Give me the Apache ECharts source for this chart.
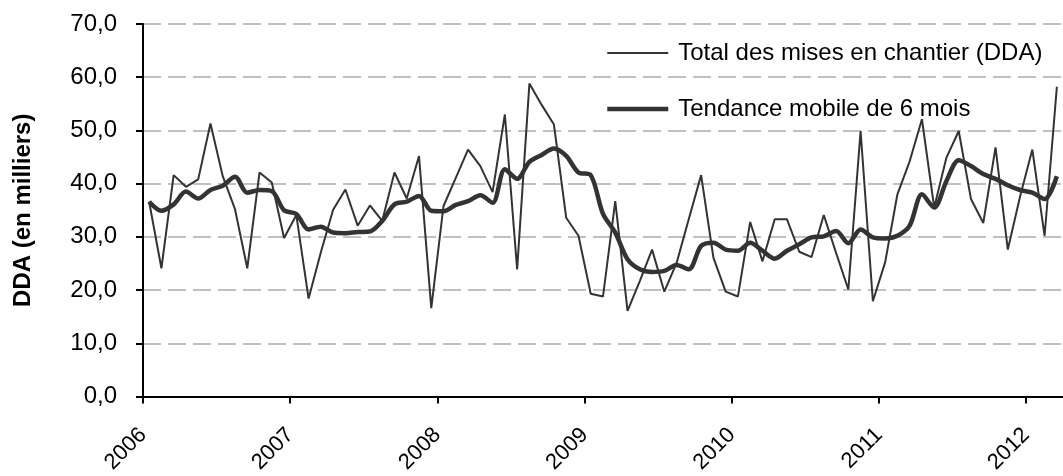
<!DOCTYPE html>
<html>
<head>
<meta charset="utf-8">
<script src="https://cdn.jsdelivr.net/npm/echarts@6/dist/echarts.min.js"></script>
<style>
  html, body { margin: 0; padding: 0; background: #fff; }
  #chart { width: 1063px; height: 476px; }
</style>
</head>
<body>
<div id="chart"></div>
<script>
// mises en chantier mensuelles, janvier 2006 -> mars 2012
const startYear = 2006
const yearTicks = [2006, 2007, 2008, 2009, 2010, 2011, 2012]

const totalDDA = [
  36.6, 24.1, 41.6, 39.4, 40.8, 51.3, 41.4, 35.2, 24.1, 42.1, 40.2, 29.8,
  34.1, 18.4, 27.1, 35.1, 38.9, 32.1, 35.9, 33.0, 42.1, 37.2, 45.2, 16.6,
  35.8, 41.1, 46.4, 43.3, 38.4, 53.0, 23.9, 58.8, 54.8, 51.1, 33.6, 30.2,
  19.3, 18.8, 36.7, 16.1, 21.7, 27.6, 19.7, 25.1, 33.4, 41.6, 26.1, 19.7,
  18.8, 32.8, 25.4, 33.3, 33.3, 27.2, 26.2, 34.1, 27.0, 20.1, 49.9, 17.9,
  25.2, 38.0, 44.2, 52.1, 35.5, 44.9, 49.9, 37.1, 32.6, 46.8, 27.6, 37.6,
  46.4, 30.2, 58.2
]

const tendance6m = [
  36.6, 34.9, 36.1, 38.5, 37.2, 38.8, 39.6, 41.3, 38.3, 38.8, 38.6, 35.0,
  34.3, 31.4, 31.9, 30.8, 30.7, 30.9, 31.0, 33.0, 36.1, 36.6, 37.7, 34.9,
  34.8, 36.0, 36.7, 37.8, 36.4, 42.7, 40.9, 44.1, 45.4, 46.6, 45.2, 42.1,
  41.6, 34.3, 30.8, 25.8, 23.9, 23.4, 23.6, 24.7, 23.9, 28.3, 28.9, 27.6,
  27.4, 28.9, 27.4, 25.9, 27.4, 28.6, 29.9, 30.1, 31.1, 28.8, 31.4, 29.9,
  29.7, 30.2, 32.1, 38.0, 35.5, 40.5, 44.4, 43.3, 41.8, 40.9, 39.7, 38.8,
  38.3, 37.1, 41.4
]

const seriesNames = ['Total des mises en chantier (DDA)', 'Tendance mobile de 6 mois']

// chaque mois est placé au milieu de son intervalle
function toPoints(values) {
  return values.map((v, i) => [startYear + (i + 0.5) / 12, v])
}

const lineColor = '#333333'
const thinWidth = 2
const thickWidth = 4.5
const fontFamily = '"Liberation Sans", Arial, sans-serif'

const chart = echarts.init(document.getElementById('chart'), null, { renderer: 'canvas' })

const option = {
  animation: false,
  backgroundColor: '#ffffff',
  textStyle: { fontFamily: fontFamily },
  grid: {
    left: 143,
    right: 0,
    top: 24,
    bottom: 78
  },
  legend: {
    show: true,
    orient: 'vertical',
    left: 605,
    top: 41,
    padding: 0,
    itemWidth: 61,
    itemHeight: 22,
    itemGap: 32,
    data: [
      { name: seriesNames[0], lineStyle: { width: thinWidth, color: lineColor } },
      { name: seriesNames[1], lineStyle: { width: thickWidth, color: lineColor } }
    ],
    itemStyle: { opacity: 0 },
    textStyle: {
      fontFamily: fontFamily,
      fontSize: 24,
      color: '#000',
      padding: [0, 0, 0, 5]
    }
  },
  xAxis: {
    type: 'value',
    min: 2006,
    max: 2012.25,
    axisLine: { show: true, lineStyle: { color: '#000', width: 2 } },
    axisTick: {
      show: true,
      length: 7,
      customValues: yearTicks,
      lineStyle: { color: '#000', width: 2 }
    },
    axisLabel: {
      customValues: yearTicks,
      rotate: 45,
      margin: 35,
      fontSize: 22,
      color: '#000',
      fontFamily: fontFamily,
      padding: [0, 0, 0, 0],
      formatter: v => String(v)
    },
    splitLine: { show: false }
  },
  yAxis: {
    type: 'value',
    min: 0,
    max: 70,
    interval: 10,
    name: 'DDA (en milliers)',
    nameLocation: 'middle',
    nameGap: 108,
    nameRotate: 90,
    nameTextStyle: {
      fontFamily: fontFamily,
      fontSize: 24,
      fontWeight: 'bold',
      color: '#000'
    },
    axisLine: { show: true, lineStyle: { color: '#000', width: 2 } },
    axisTick: { show: true, length: 7, lineStyle: { color: '#000', width: 2 } },
    axisLabel: {
      margin: 26,
      fontSize: 24,
      color: '#000',
      fontFamily: fontFamily,
      formatter: v => v.toFixed(1).replace('.', ',')
    },
    splitLine: {
      show: true,
      lineStyle: { color: '#c0c0c0', width: 2, type: [18, 7] }
    }
  },
  series: [
    {
      name: seriesNames[0],
      type: 'line',
      data: toPoints(totalDDA),
      symbol: 'none',
      lineStyle: { color: lineColor, width: thinWidth },
      itemStyle: { color: lineColor },
      z: 3
    },
    {
      name: seriesNames[1],
      type: 'line',
      data: toPoints(tendance6m),
      symbol: 'none',
      smooth: 0.3,
      lineStyle: { color: lineColor, width: thickWidth },
      itemStyle: { color: lineColor },
      z: 4
    }
  ]
}

chart.setOption(option)
</script>
</body>
</html>
